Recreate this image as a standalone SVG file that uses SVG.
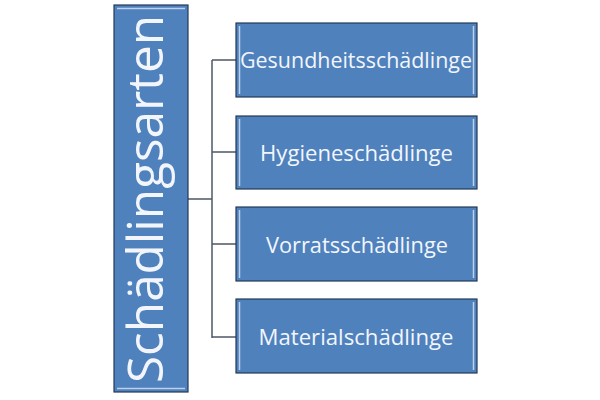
<svg xmlns="http://www.w3.org/2000/svg" width="600" height="400" viewBox="0 0 600 400">
<style>
.box{fill:#4f81bd;stroke:#243a55;stroke-width:1.2}
.hl{stroke:#c6d9f1;stroke-width:1.5;fill:none;opacity:0.9}
.lbl{font-family:"Open Sans","Liberation Sans",sans-serif;font-size:21px;fill:#f2f6fc;text-anchor:middle}
.main{font-family:"Open Sans","Liberation Sans",sans-serif;font-size:50px;fill:#f2f6fc;text-anchor:middle}
.conn{stroke:#4d5866;fill:none;stroke-width:1.5}
</style>
<rect width="600" height="400" fill="#ffffff"/>
<g id="connectors">
<line class="conn" x1="188" y1="199" x2="212" y2="199" stroke-width="2.5"/>
<line class="conn" x1="212" y1="60" x2="212" y2="338"/>
<line class="conn" x1="212" y1="60" x2="236" y2="60"/>
<line class="conn" x1="212" y1="152" x2="236" y2="152"/>
<line class="conn" x1="212" y1="244" x2="236" y2="244"/>
<line class="conn" x1="212" y1="337" x2="236" y2="337"/>
</g>
<g id="node-main">
<rect class="box" x="114" y="5" width="74" height="387"/>
<line class="hl" x1="117" y1="8.5" x2="185" y2="8.5"/>
<line class="hl" x1="117" y1="388.5" x2="185" y2="388.5"/>
<text class="main" transform="translate(163,199) rotate(-90)" textLength="368" lengthAdjust="spacingAndGlyphs">Schädlingsarten</text>
</g>
<g id="node-1">
<rect class="box" x="236" y="23" width="241" height="74"/>
<line class="hl" x1="239.5" y1="26" x2="239.5" y2="94"/>
<line class="hl" x1="473.5" y1="26" x2="473.5" y2="94"/>
<text class="lbl" x="356" y="68" textLength="232" lengthAdjust="spacingAndGlyphs">Gesundheitsschädlinge</text>
</g>
<g id="node-2">
<rect class="box" x="236" y="116" width="241" height="73"/>
<line class="hl" x1="239.5" y1="119" x2="239.5" y2="186"/>
<line class="hl" x1="473.5" y1="119" x2="473.5" y2="186"/>
<text class="lbl" x="356.5" y="161" textLength="193" lengthAdjust="spacingAndGlyphs">Hygieneschädlinge</text>
</g>
<g id="node-3">
<rect class="box" x="236" y="207" width="241" height="74"/>
<line class="hl" x1="239.5" y1="210" x2="239.5" y2="278"/>
<line class="hl" x1="473.5" y1="210" x2="473.5" y2="278"/>
<text class="lbl" x="357" y="253" textLength="182" lengthAdjust="spacingAndGlyphs">Vorratsschädlinge</text>
</g>
<g id="node-4">
<rect class="box" x="236" y="299" width="241" height="74"/>
<line class="hl" x1="239.5" y1="302" x2="239.5" y2="370"/>
<line class="hl" x1="473.5" y1="302" x2="473.5" y2="370"/>
<text class="lbl" x="356" y="345" textLength="195" lengthAdjust="spacingAndGlyphs">Materialschädlinge</text>
</g>
</svg>
